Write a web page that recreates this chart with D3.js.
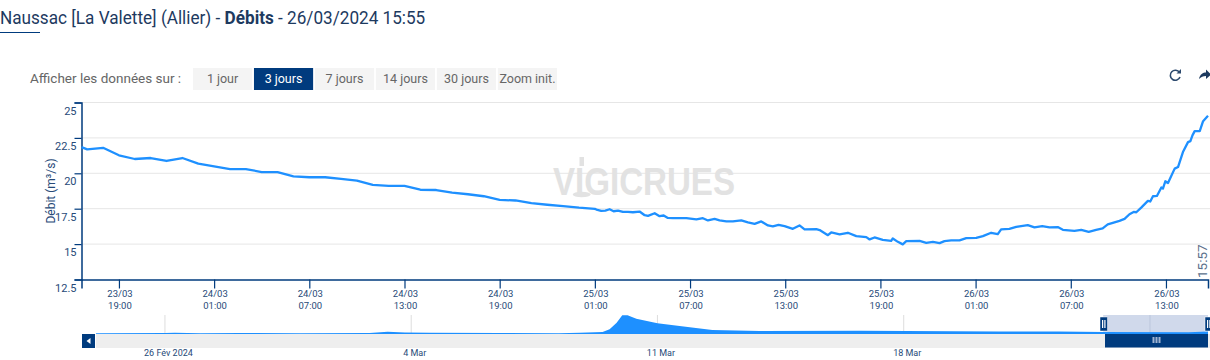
<!DOCTYPE html>
<html>
<head>
<meta charset="utf-8">
<script src="https://cdn.jsdelivr.net/npm/d3@7"></script>
<style>
	html, body { margin: 0; padding: 0; background: #fff; }
	svg { display: block; font-family: Roboto, sans-serif; }
	.grid line { stroke: #e6e6e6; stroke-width: 1; }
	.tick-label { fill: #274a78; font-size: 11.5px; }
	.nav-label { fill: #274a78; font-size: 10px; }
	.btn-label { fill: #666; font-size: 12.5px; text-anchor: middle; }
</style>
</head>
<body>
<div id="chart"></div>
<script>
// hours since 23/03 00:00, then debit in m3/s
const hours = [
	16.64, 17, 18, 19, 20, 21, 22, 23, 24, 25, 26, 27, 28, 29, 30, 31, 32, 33, 34, 35, 36, 37, 38, 39, 40,
	41, 42, 43, 44, 45, 46, 47, 48, 49,
	49.1, 49.4, 49.66, 49.93, 50.18, 50.46, 50.77, 51.09, 51.4, 51.82, 52.14, 52.35, 52.77, 53.08, 53.34,
	53.6, 53.92, 54.34, 54.77, 55.4, 55.81, 56.13, 56.55, 56.86, 57.29, 57.7, 58.23, 58.65, 59.07, 59.49,
	59.91, 60.22, 60.58, 60.96, 61.48, 61.9, 62.22, 62.96, 63.17, 63.69, 63.9, 64.43, 64.95, 65.48, 66.11,
	66.32, 66.63, 67.15, 67.68, 67.78, 68.1, 68.41, 68.63, 69.47, 69.89, 70.31, 70.73, 71.04, 71.46, 71.99,
	72.41, 73.04, 73.46, 73.98, 74.4, 74.61, 75.13, 75.56, 76.29, 76.71, 77.2, 77.66, 78.18, 78.5, 79.23,
	79.66, 80.13, 80.6, 81.01, 81.33, 81.65,
	82.07, 82.39, 82.7, 82.96, 83.13, 83.44, 83.86, 84.01, 84.18, 84.43, 84.71, 84.81, 84.96, 85.13, 85.23,
	85.55, 85.76, 86.07, 86.39, 86.54, 86.67, 86.81, 87.13, 87.34, 87.65
];
const debit = [
	21.85, 21.69, 21.8, 21.27, 21.01, 21.08, 20.87, 21.08, 20.68, 20.49, 20.3, 20.3, 20.09, 20.09, 19.79,
	19.72, 19.72, 19.6, 19.49, 19.18, 19.11, 19.11, 18.84, 18.82, 18.63, 18.52, 18.38, 18.12, 18.08, 17.89,
	17.78, 17.68, 17.57, 17.49,
	17.44, 17.35, 17.37, 17.46, 17.32, 17.37, 17.27, 17.27, 17.25, 17.3, 17.04, 16.99, 17.18, 16.97, 17.02,
	16.85, 16.83, 16.83, 16.83, 16.74, 16.83, 16.67, 16.78, 16.67, 16.6, 16.6, 16.67, 16.53, 16.43, 16.6,
	16.32, 16.25, 16.36, 16.27, 16.08, 16.32, 16.04, 16.06, 15.99, 15.63, 15.82, 15.68, 15.8, 15.56, 15.49,
	15.33, 15.47, 15.3, 15.23, 15.4, 15.16, 14.98, 15.21, 15.23, 15.09, 15.16, 15.07, 15.21, 15.26, 15.26,
	15.42, 15.44, 15.56, 15.8, 15.7, 16.04, 16.08, 16.22, 16.34, 16.18, 16.27, 16.18, 16.2, 16.01, 15.94,
	16.01, 15.87, 16.01, 16.11, 16.39, 16.5,
	16.64, 16.78, 17.11, 17.27, 17.25, 17.58, 18.05, 18.01, 18.38, 18.4, 19, 18.92, 19.44, 19.32, 19.56,
	20.33, 20.44, 21.5, 22.2, 22.27, 22.68, 22.98, 22.98, 23.68, 24.06
];

// navigator series: days since 26 Feb, debit in m3/s
const navDays = [-1.96, 0, 0.28, 1, 2.13, 3.83, 5.82, 6.33, 6.82, 7.53, 9.51, 11.2, 11.79, 12.44, 12.64, 12.84, 13, 13.15, 13.4, 14, 14.63, 15.56, 16.9, 19.74, 23.7, 25.4, 26.67, 29.1, 29.65];
const navDebit = [14, 16, 17.5, 15, 16.5, 15, 16, 23, 18, 17, 16, 15, 17.5, 21, 36, 72, 113, 113, 95, 69, 54, 32, 27, 28.5, 24, 24, 21, 20, 24];

const yTicks = [12.5, 15, 17.5, 20, 22.5, 25];
const xTickHours = [19, 25, 31, 37, 43, 49, 55, 61, 67, 73, 79, 85];
const navTickDays = [0, 7, 14, 21, 28];
const navTickLabels = ['26 Fév 2024', '4 Mar', '11 Mar', '18 Mar', ''];
const buttonLabels = ['1 jour', '3 jours', '7 jours', '14 jours', '30 jours', 'Zoom init.'];
const selectedButton = 1;

const navy = '#003b7e',
	lineBlue = '#1e90ff',
	width = 1210,
	height = 360;

const hourToDate = h => new Date(Date.UTC(2024, 2, 23) + h * 36e5);
const dayToDate = d => new Date(Date.UTC(2024, 1, 26) + d * 864e5);

const svg = d3.select('#chart').append('svg')
	.attr('width', width)
	.attr('height', height);

// title, squeezed a bit since the original font is narrower
const title = svg.append('text')
	.attr('transform', 'translate(0, 24) scale(0.903, 1)')
	.attr('fill', '#1d3a5f')
	.style('font-size', '19px');
title.append('tspan').text('Naussac [La Valette] (Allier) - ');
title.append('tspan').style('font-weight', 700).text('Débits');
title.append('tspan').text(' - 26/03/2024 15:55');

svg.append('line')
	.attr('x1', 0).attr('x2', 40)
	.attr('y1', 32.5).attr('y2', 32.5)
	.attr('stroke', navy);

// range buttons
svg.append('text')
	.attr('x', 30)
	.attr('y', 83)
	.attr('fill', '#666')
	.style('font-size', '13.5px')
	.text('Afficher les données sur :');

const btnScale = d3.scaleBand()
	.domain(buttonLabels)
	.range([193, 557])
	.paddingInner(0.03);

const btn = svg.selectAll('.btn')
	.data(buttonLabels)
	.enter().append('g')
	.attr('class', 'btn')
	.attr('transform', d => `translate(${btnScale(d)}, 68)`);

btn.append('rect')
	.attr('width', btnScale.bandwidth())
	.attr('height', 22)
	.attr('fill', (d, i) => i === selectedButton ? navy : '#f4f4f4');

btn.append('text')
	.attr('class', 'btn-label')
	.attr('x', btnScale.bandwidth() / 2)
	.attr('y', 15)
	.style('fill', (d, i) => i === selectedButton ? '#fff' : '#666')
	.text(d => d);

// reload + share icons
svg.append('path')
	.attr('d', 'M1179.5 72.5 A5 5 0 1 0 1180 77')
	.attr('fill', 'none')
	.attr('stroke', '#2c4a6e')
	.attr('stroke-width', 1.6);
svg.append('path')
	.attr('d', 'M1176.5 73.5 L1181 73.5 L1181 69 Z')
	.attr('fill', '#2c4a6e');
svg.append('path')
	.attr('d', 'M1199 79 C1200 74 1203 72.5 1206 72.5 L1206 69.5 L1211 74.5 L1206 79 L1206 76 C1203 76 1201 77 1199 79 Z')
	.attr('fill', '#1d3a5f');

// main chart
const x = d3.scaleTime()
	.domain([hourToDate(16.64), hourToDate(87.65)])
	.range([81.5, 1208]);

const y = d3.scaleLinear()
	.domain([12.5, 25])
	.range([279.5, 102.5]);

svg.append('g')
	.attr('class', 'grid')
	.selectAll('line')
	.data(yTicks.slice(1))
	.enter().append('line')
	.attr('x1', 81.5)
	.attr('x2', width)
	.attr('y1', d => y(d))
	.attr('y2', d => y(d));

// watermark, the I of the logo has a small cap and a foot
svg.append('text')
	.attr('x', 553)
	.attr('y', 195)
	.attr('fill', '#e2e2e2')
	.attr('textLength', 182)
	.attr('lengthAdjust', 'spacingAndGlyphs')
	.style('font-family', 'Liberation Sans')
	.style('font-weight', 700)
	.style('font-size', '39px')
	.text('VIGICRUES');
svg.append('rect').attr('x', 579.5).attr('y', 157).attr('width', 4.5).attr('height', 9).attr('fill', '#e2e2e2');
svg.append('ellipse').attr('cx', 581.7).attr('cy', 194.5).attr('rx', 9).attr('ry', 2.8).attr('fill', '#e2e2e2');

const yAxis = d3.axisLeft(y)
	.tickValues(yTicks)
	.tickSize(7)
	.tickFormat(d => d);

const yG = svg.append('g')
	.attr('transform', 'translate(81.5, 0)')
	.call(yAxis);
yG.select('.domain').attr('stroke', navy).attr('stroke-width', 1.5);
yG.selectAll('.tick line').attr('stroke', navy).attr('stroke-width', 1.2);
yG.selectAll('.tick text')
	.attr('class', 'tick-label')
	.attr('x', -5)
	.attr('y', 8)
	.attr('dy', '0.32em')
	.style('font-family', 'Roboto')
	.style('font-size', '11px');

svg.append('text')
	.attr('transform', 'translate(55, 191) rotate(-90)')
	.attr('text-anchor', 'middle')
	.attr('class', 'tick-label')
	.style('font-size', '12px')
	.text('Débit (m³/s)');

const xAxis = d3.axisBottom(x)
	.tickValues(xTickHours.map(hourToDate))
	.tickSize(9)
	.tickFormat('');

const xG = svg.append('g')
	.attr('transform', 'translate(0, 279.5)')
	.call(xAxis);
xG.select('.domain').attr('stroke', navy).attr('stroke-width', 1.5);
xG.selectAll('.tick line').attr('stroke', navy).attr('stroke-width', 1.2);

const fmtDay = d3.utcFormat('%d/%m'),
	fmtHour = d3.utcFormat('%H:%M');

const xLabels = svg.selectAll('.x-label')
	.data(xTickHours.map(hourToDate))
	.enter().append('text')
	.attr('class', 'x-label tick-label')
	.attr('text-anchor', 'middle')
	.style('font-size', '9.5px');
xLabels.append('tspan')
	.attr('x', d => x(d) + 1)
	.attr('y', 297)
	.text(fmtDay);
xLabels.append('tspan')
	.attr('x', d => x(d) + 1)
	.attr('y', 309)
	.text(fmtHour);

const line = d3.line()
	.x((d, i) => x(hourToDate(hours[i])))
	.y(d => y(d));

svg.append('path')
	.datum(debit)
	.attr('fill', 'none')
	.attr('stroke', lineBlue)
	.attr('stroke-width', 2.3)
	.attr('stroke-linejoin', 'round')
	.attr('d', line);

svg.append('text')
	.attr('transform', 'translate(1207, 278) rotate(-90)')
	.attr('fill', '#5a6f8c')
	.style('font-size', '13.5px')
	.text('15:57');

// navigator
const navX = d3.scaleTime()
	.domain([dayToDate(-1.96), dayToDate(29.65)])
	.range([96, 1208]);

const navY = d3.scaleLinear()
	.domain([12, 115])
	.range([333.7, 315]);

svg.append('g')
	.selectAll('line')
	.data(navTickDays)
	.enter().append('line')
	.attr('x1', d => navX(dayToDate(d)))
	.attr('x2', d => navX(dayToDate(d)))
	.attr('y1', 315)
	.attr('y2', 333)
	.attr('stroke', '#ddd');

svg.append('g')
	.selectAll('text')
	.data(navTickDays)
	.enter().append('text')
	.attr('class', 'nav-label')
	.attr('x', d => navX(dayToDate(d)) + 3.5)
	.attr('y', 356)
	.attr('text-anchor', 'middle')
	.style('font-size', '9px')
	.text((d, i) => navTickLabels[i]);

const navArea = d3.area()
	.x((d, i) => navX(dayToDate(navDays[i])))
	.y0(334)
	.y1(d => navY(d));

svg.append('rect')
	.attr('x', navX(dayToDate(26.67)))
	.attr('y', 315)
	.attr('width', 1208 - navX(dayToDate(26.67)))
	.attr('height', 18)
	.attr('fill', '#d0d9eb');

svg.append('line')
	.attr('x1', navX(dayToDate(28)))
	.attr('x2', navX(dayToDate(28)))
	.attr('y1', 315)
	.attr('y2', 333)
	.attr('stroke', '#bcc6dc');

svg.append('path')
	.datum(navDebit)
	.attr('fill', lineBlue)
	.attr('d', navArea);

// scrollbar
svg.append('rect').attr('x', 96).attr('y', 334).attr('width', 1114).attr('height', 14).attr('fill', '#eeeeee');
svg.append('rect').attr('x', 82).attr('y', 334).attr('width', 13).attr('height', 14).attr('fill', navy);
svg.append('path').attr('d', 'M90.5 338 L86.5 341 L90.5 344 Z').attr('fill', '#fff');
svg.append('rect').attr('x', 1105).attr('y', 334).attr('width', 103).attr('height', 13.5).attr('fill', navy);
[1152.5, 1155.5, 1158.5].forEach(gx => {
	svg.append('rect').attr('x', gx).attr('y', 337).attr('width', 2).attr('height', 6).attr('fill', '#9fb4d2');
});

// selection handles
[1100, 1205].forEach(hx => {
	svg.append('rect').attr('x', hx).attr('y', 317).attr('width', 7.5).attr('height', 14).attr('fill', navy).attr('stroke', '#fff').attr('stroke-width', 0.5);
	svg.append('rect').attr('x', hx + 2).attr('y', 320).attr('width', 1.2).attr('height', 8).attr('fill', '#fff');
	svg.append('rect').attr('x', hx + 4.3).attr('y', 320).attr('width', 1.2).attr('height', 8).attr('fill', '#fff');
});
</script>
</body>
</html>
